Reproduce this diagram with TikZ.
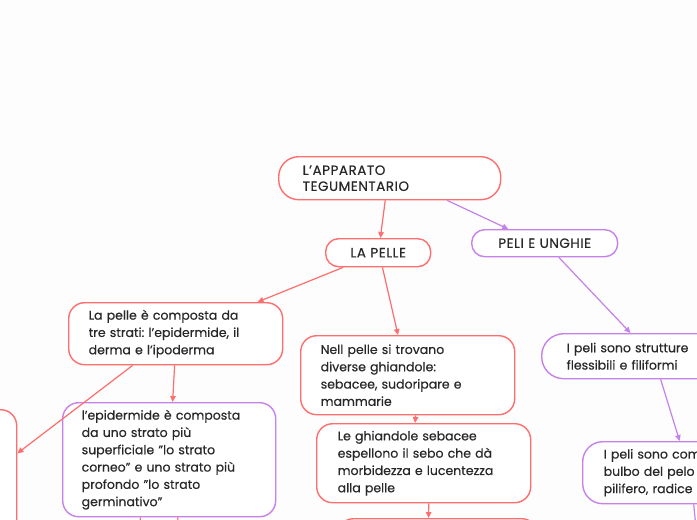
\documentclass[tikz,border=0pt]{standalone}
\usepackage{fontspec}
\setmainfont{Poppins}[FakeBold=0.4]
\frenchspacing
\usetikzlibrary{arrows.meta,calc}
\definecolor{redc}{RGB}{255,110,110}
\definecolor{purc}{RGB}{198,130,234}
\definecolor{txt}{RGB}{40,40,40}
\definecolor{bg}{RGB}{253,253,253}
\begin{document}
\begin{tikzpicture}[x=1pt,y=-1pt,
  box/.style={draw, line width=1.4pt, rounded corners=16pt, fill=white, text=txt,
    font=\fontsize{12.5}{17.3}\selectfont, align=left, inner ysep=0pt, anchor=north west},
  rbox/.style={box, draw=redc},
  pbox/.style={box, draw=purc},
  capsbox/.style={font=\fontsize{13.5}{16}\selectfont\addfontfeature{LetterSpace=4}},
  edge/.style={line width=1.2pt, -{Triangle[length=6pt,width=5.5pt]}},
  redge/.style={edge, draw=redc, fill=redc},
  pedge/.style={edge, draw=purc, fill=purc}]
\clip (0,0) rectangle (697,520);
\fill[bg] (0,0) rectangle (697,520);

% nodes
\node[rbox, capsbox, rounded corners=20pt, minimum width=222pt, minimum height=43pt,
  inner xsep=24pt, text width=174pt] (top) at (278,156) {L’APPARATO\\TEGUMENTARIO};
\node[rbox, capsbox, rounded corners=13pt, minimum width=105pt, minimum height=28pt,
  inner xsep=6pt, text width=93pt, align=center] (lap) at (325,238) {LA PELLE};
\node[pbox, capsbox, rounded corners=13pt, minimum width=146pt, minimum height=27pt,
  inner xsep=6pt, text width=134pt, align=center] (peli) at (471,229) {PELI E UNGHIE};

\node[rbox, minimum width=214pt, minimum height=62pt, inner xsep=20pt, text width=174pt]
  (comp) at (68,302) {La pelle è composta da\\tre strati: l’epidermide, il\\derma e l’ipoderma};
\node[rbox, minimum width=214pt, minimum height=79pt, inner xsep=20pt, text width=174pt]
  (nell) at (300,335) {Nell pelle si trovano\\diverse ghiandole:\\sebacee, sudoripare e\\mammarie};
\node[rbox, minimum width=214pt, minimum height=79pt, inner xsep=21pt, text width=172pt]
  (ghi) at (316,423) {Le ghiandole sebacee\\espellono il sebo che dà\\morbidezza e lucentezza\\alla pelle};
\node[rbox, minimum width=200pt, minimum height=80pt, inner xsep=20pt, text width=160pt]
  (bot) at (337,518) {};
\node[pbox, minimum width=213pt, minimum height=114pt, inner xsep=19pt, text width=175pt]
  (epi) at (62,402) {l’epidermide è composta\\da uno strato più\\superficiale ”lo strato\\corneo” e uno strato più\\profondo ”lo strato\\germinativo”};
\node[rbox, minimum width=216pt, minimum height=200pt, inner xsep=20pt, text width=176pt]
  (lb) at (-200,409) {};
\node[pbox, rounded corners=22pt, minimum width=219pt, minimum height=45pt, inner xsep=25pt, text width=169pt]
  (strut) at (541,333) {I peli sono strutture\\flessibili e filiformi};
\node[pbox, rounded corners=20pt, minimum width=219pt, minimum height=62pt, inner xsep=21pt, text width=177pt]
  (cost) at (582,441) {I peli sono com\\bulbo del pelo\\pilifero, radice};

\coordinate (e1) at (136,570);
\coordinate (e2) at (180,570);
\coordinate (e3) at (700,570);

% connectors
\draw[redge] ($(top.south west)!0.48!(top.south east)$) -- ($(lap.north west)!0.52!(lap.north east)$);
\draw[pedge] ($(top.south west)!0.757!(top.south east)$) -- ($(peli.north west)!0.253!(peli.north east)$);
\draw[redge] ($(lap.south west)!0.17!(lap.south east)$) -- ($(comp.north west)!0.88!(comp.north east)$);
\draw[redge] ($(lap.south west)!0.54!(lap.south east)$) -- ($(nell.north west)!0.455!(nell.north east)$);
\draw[redge] ($(nell.south west)!0.537!(nell.south east)$) -- ($(ghi.north west)!0.46!(ghi.north east)$);
\draw[redge] ($(ghi.south west)!0.523!(ghi.south east)$) -- ($(bot.north west)!0.455!(bot.north east)$);
\draw[redge] ($(comp.south west)!0.495!(comp.south east)$) -- ($(epi.north west)!0.516!(epi.north east)$);
\draw[redge] ($(comp.south west)!0.30!(comp.south east)$) -- ($(lb.north east)!0.22!(lb.south east)$);
\draw[redge] ($(epi.south west)!0.366!(epi.south east)$) -- (e1);
\draw[redge] ($(epi.south west)!0.54!(epi.south east)$) -- (e2);
\draw[pedge] ($(peli.south west)!0.596!(peli.south east)$) -- ($(strut.north west)!0.406!(strut.north east)$);
\draw[pedge] ($(strut.south west)!0.543!(strut.south east)$) -- ($(cost.north west)!0.443!(cost.north east)$);
\draw[pedge] ($(cost.south west)!0.507!(cost.south east)$) -- (e3);
\end{tikzpicture}
\end{document}
